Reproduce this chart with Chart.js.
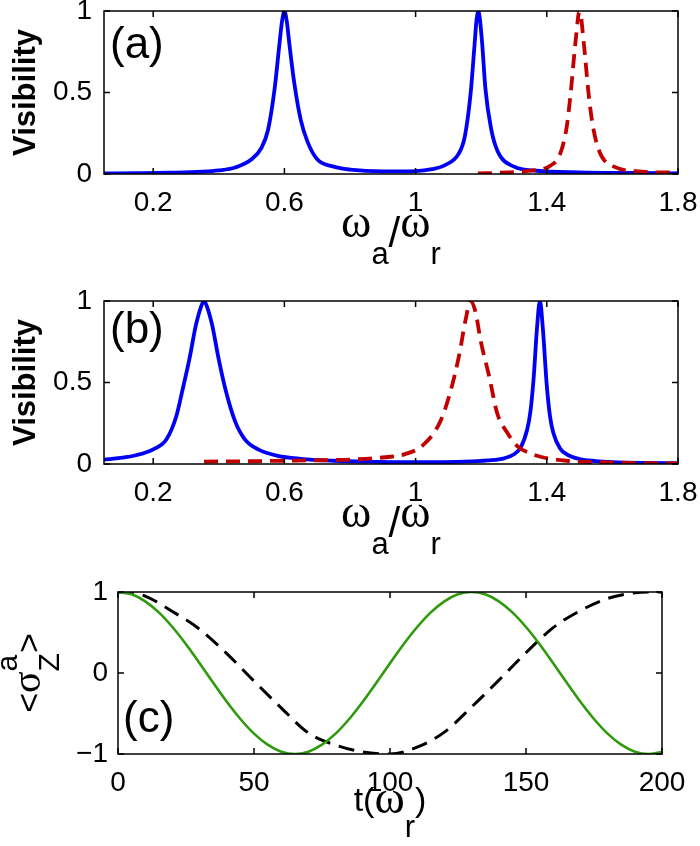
<!DOCTYPE html>
<html>
<head>
<meta charset="utf-8">
<script src="https://cdn.jsdelivr.net/npm/chart.js@4.4.1/dist/chart.umd.min.js"></script>
<style>
  body { margin: 0; background: #fff; }
  #wrap { position: relative; width: 700px; height: 846px; }
  canvas { position: absolute; left: 0; }
</style>
</head>
<body>
<div id="wrap">
  <canvas id="panelA" width="700" height="280" style="top:0px"></canvas>
  <canvas id="panelB" width="700" height="280" style="top:290px"></canvas>
  <canvas id="panelC" width="700" height="266" style="top:580px"></canvas>
</div>
<script>
// ---- data ----

// panel (a): visibility vs omega_a / omega_r
const aBlueX = [0.05, 0.15, 0.25, 0.35, 0.40, 0.45, 0.50, 0.53, 0.55, 0.57, 0.585, 0.593, 0.60, 0.607, 0.615, 0.63, 0.65, 0.67, 0.70, 0.75, 0.80, 0.90, 1.00, 1.05, 1.09, 1.13, 1.15, 1.168, 1.18, 1.186, 1.191, 1.196, 1.203, 1.213, 1.23, 1.25, 1.30, 1.37, 1.50, 1.65, 1.80];
const aBlueY = [0.003, 0.005, 0.008, 0.014, 0.022, 0.04, 0.09, 0.16, 0.27, 0.52, 0.8, 0.94, 1.0, 0.94, 0.8, 0.56, 0.33, 0.2, 0.09, 0.045, 0.027, 0.016, 0.018, 0.03, 0.055, 0.12, 0.23, 0.5, 0.8, 0.95, 1.0, 0.95, 0.8, 0.52, 0.28, 0.14, 0.045, 0.02, 0.01, 0.006, 0.004];
const aRedX = [1.19, 1.28, 1.35, 1.41, 1.44, 1.46, 1.473, 1.487, 1.5, 1.513, 1.527, 1.54, 1.56, 1.605, 1.69, 1.80];
const aRedY = [0.003, 0.01, 0.02, 0.05, 0.12, 0.28, 0.5, 0.8, 1.0, 0.8, 0.5, 0.3, 0.14, 0.045, 0.015, 0.008];

// panel (b)
const bBlueX = [0.05, 0.10, 0.15, 0.20, 0.24, 0.27, 0.29, 0.31, 0.33, 0.345, 0.355, 0.365, 0.38, 0.40, 0.42, 0.45, 0.48, 0.52, 0.58, 0.65, 0.75, 0.85, 0.95, 1.05, 1.15, 1.22, 1.27, 1.30, 1.32, 1.34, 1.35, 1.36, 1.37, 1.379, 1.388, 1.40, 1.41, 1.42, 1.44, 1.46, 1.50, 1.55, 1.60, 1.70, 1.80];
const bBlueY = [0.027, 0.037, 0.055, 0.09, 0.15, 0.29, 0.46, 0.64, 0.85, 0.96, 1.0, 0.96, 0.85, 0.64, 0.46, 0.26, 0.15, 0.09, 0.05, 0.032, 0.02, 0.014, 0.011, 0.011, 0.014, 0.022, 0.035, 0.06, 0.1, 0.21, 0.32, 0.53, 0.83, 1.0, 0.83, 0.48, 0.29, 0.19, 0.097, 0.06, 0.03, 0.018, 0.012, 0.007, 0.005];
const bRedX = [0.355, 0.5, 0.6, 0.7, 0.8, 0.89, 0.97, 1.025, 1.075, 1.107, 1.132, 1.153, 1.167, 1.183, 1.198, 1.224, 1.249, 1.28, 1.31, 1.35, 1.39, 1.46, 1.58, 1.74, 1.8];
const bRedY = [0.015, 0.017, 0.02, 0.023, 0.027, 0.038, 0.062, 0.12, 0.26, 0.45, 0.66, 0.89, 1.0, 0.93, 0.76, 0.54, 0.31, 0.19, 0.11, 0.065, 0.04, 0.02, 0.01, 0.004, 0.003];

const wTicks = [0.2, 0.6, 1, 1.4, 1.8];
const wTickLabels = ['0.2', '0.6', '1', '1.4', '1.8'];
const visTicks = [0, 0.5, 1];
const visTickLabels = ['0', '0.5', '1'];

// panel (c): <sigma_z^a> vs time
const cGreenT = [0, 5, 10, 15, 20, 25, 30, 35, 40, 45, 50, 55, 60, 65, 70, 75, 80, 85, 90, 95, 100, 105, 110, 115, 120, 125, 130, 135, 140, 145, 150, 155, 160, 165, 170, 175, 180, 185, 190, 195, 200];
const cGreenY = [1, 0.971, 0.885, 0.749, 0.568, 0.355, 0.121, -0.121, -0.355, -0.568, -0.749, -0.885, -0.971, -1, -0.971, -0.885, -0.749, -0.568, -0.355, -0.121, 0.121, 0.355, 0.568, 0.749, 0.885, 0.971, 1, 0.971, 0.885, 0.749, 0.568, 0.355, 0.121, -0.121, -0.355, -0.568, -0.749, -0.885, -0.971, -1, -0.975];
const cBlackT = [0, 5, 10, 20, 30, 40, 50, 60, 70, 80, 90, 100, 110, 120, 130, 140, 150, 160, 170, 180, 190, 195, 200];
const cBlackY = [1, 0.99, 0.95, 0.76, 0.54, 0.24, -0.1, -0.43, -0.74, -0.89, -0.975, -1, -0.915, -0.73, -0.42, -0.09, 0.25, 0.56, 0.77, 0.92, 0.99, 1, 1];

const tTicks = [0, 50, 100, 150, 200];
const tTickLabels = ['0', '50', '100', '150', '200'];
const sTicks = [-1, 0, 1];
const sTickLabels = ['\u22121', '0', '1'];

// ---- drawing ----
const sans = '"Liberation Sans", Arial, Helvetica, sans-serif';
const serif = '"Liberation Serif", "Times New Roman", serif';

const omegaTitle = [
  { t: '\u03c9', font: `46px ${serif}`, dy: 0 },
  { t: 'a', font: `31px ${sans}`, dy: 27 },
  { t: '/', font: `42px ${sans}`, dy: 10 },
  { t: '\u03c9', font: `46px ${serif}`, dy: 0 },
  { t: 'r', font: `31px ${sans}`, dy: 27 }
];
const timeTitle = [
  { t: 't(', font: `34px ${sans}`, dy: 0 },
  { t: '\u03c9', font: `46px ${serif}`, dy: 2 },
  { t: 'r', font: `31px ${sans}`, dy: 26 },
  { t: ')', font: `34px ${sans}`, dy: 0 }
];
const visTitle = [{ t: 'Visibility', font: `bold 31px ${sans}`, dy: 0 }];
const sigmaTitle = [
  { t: '<', font: `34px ${sans}`, dy: 0 },
  { t: '\u03c3', font: `40px ${serif}`, dy: 0 },
  { stack: [
    { t: 'Z', font: `30px ${sans}`, dy: 19 },
    { t: 'a', font: `30px ${sans}`, dy: -23 }
  ] },
  { t: '>', font: `34px ${sans}`, dy: 0 }
];

function segWidth(ctx, s) {
  if (s.stack) return Math.max(...s.stack.map(p => segWidth(ctx, p)));
  ctx.font = s.font;
  return ctx.measureText(s.t).width;
}

// draws a row of text pieces centred on cx, with sub/superscript offsets
function drawRich(ctx, segs, cx, baseY) {
  const total = segs.reduce((w, s) => w + segWidth(ctx, s), 0);
  let x = cx - total / 2;
  ctx.textAlign = 'left';
  ctx.textBaseline = 'alphabetic';
  segs.forEach(s => {
    const parts = s.stack || [s];
    parts.forEach(p => {
      ctx.font = p.font;
      ctx.fillText(p.t, x, baseY + p.dy);
    });
    x += segWidth(ctx, s);
  });
}

const matlab = {
  id: 'matlab',
  afterDraw(chart, args, opts) {
    const { ctx, chartArea: a, scales: { x, y } } = chart;
    ctx.save();
    ctx.strokeStyle = '#000';
    ctx.lineWidth = 1.5;
    ctx.strokeRect(a.left, a.top, a.right - a.left, a.bottom - a.top);
    // inward tick marks on all four sides
    ctx.beginPath();
    x.ticks.forEach(t => {
      const px = x.getPixelForValue(t.value);
      ctx.moveTo(px, a.bottom); ctx.lineTo(px, a.bottom - 6);
      ctx.moveTo(px, a.top); ctx.lineTo(px, a.top + 6);
    });
    y.ticks.forEach(t => {
      const py = y.getPixelForValue(t.value);
      ctx.moveTo(a.left, py); ctx.lineTo(a.left + 6, py);
      ctx.moveTo(a.right, py); ctx.lineTo(a.right - 6, py);
    });
    ctx.stroke();

    ctx.fillStyle = '#000';
    drawRich(ctx, opts.xTitle, (a.left + a.right) / 2, opts.xTitleY);
    ctx.save();
    ctx.translate(opts.yTitleX, (a.top + a.bottom) / 2);
    ctx.rotate(-Math.PI / 2);
    drawRich(ctx, opts.yTitle, 0, 0);
    ctx.restore();

    ctx.font = `44px ${sans}`;
    ctx.textAlign = 'left';
    ctx.textBaseline = 'alphabetic';
    ctx.fillText(opts.label, opts.labelX, opts.labelY);
    ctx.restore();
  }
};

const pts = (xs, ys) => xs.map((v, i) => ({ x: v, y: ys[i] }));

function makePanel(id, cfg) {
  const tickFont = { family: sans, size: 28 };
  return new Chart(document.getElementById(id), {
    type: 'line',
    data: { datasets: cfg.datasets },
    options: {
      responsive: false,
      animation: false,
      devicePixelRatio: 1,
      layout: {
        autoPadding: false,
        padding: { left: 0, top: cfg.padTop, right: cfg.padRight, bottom: 0 }
      },
      elements: {
        point: { radius: 0 },
        line: { cubicInterpolationMode: 'monotone', fill: false, borderCapStyle: 'butt' }
      },
      plugins: {
        legend: { display: false },
        tooltip: { enabled: false },
        matlab: cfg.matlab
      },
      scales: {
        x: {
          type: 'linear',
          min: cfg.xMin,
          max: cfg.xMax,
          grid: { display: false, drawTicks: false },
          border: { display: false },
          afterBuildTicks: s => { s.ticks = cfg.xTicks.map(v => ({ value: v })); },
          afterFit: s => { s.height = cfg.xHeight; s.paddingLeft = 0; s.paddingRight = 0; },
          ticks: {
            padding: 12, autoSkip: false, maxRotation: 0, minRotation: 0,
            color: '#000', font: tickFont,
            callback: (v, i) => cfg.xTickLabels[i]
          }
        },
        y: {
          type: 'linear',
          min: cfg.yMin,
          max: cfg.yMax,
          grid: { display: false, drawTicks: false },
          border: { display: false },
          afterBuildTicks: s => { s.ticks = cfg.yTicks.map(v => ({ value: v })); },
          afterFit: s => { s.width = cfg.yWidth; s.paddingTop = 0; s.paddingBottom = 0; },
          ticks: {
            padding: cfg.yPad, autoSkip: false,
            color: '#000', font: tickFont,
            callback: (v, i) => cfg.yTickLabels[i]
          }
        }
      }
    },
    plugins: [matlab]
  });
}

const blue = '#0000f5';
const red = '#c20000';

makePanel('panelA', {
  padTop: 11, padRight: 22, xHeight: 106, yWidth: 104, yPad: 12,
  xMin: 0.05, xMax: 1.8, yMin: 0, yMax: 1,
  xTicks: wTicks, xTickLabels: wTickLabels, yTicks: visTicks, yTickLabels: visTickLabels,
  datasets: [
    { data: pts(aRedX, aRedY), borderColor: red, borderWidth: 3.8, borderDash: [14, 8], order: 0 },
    { data: pts(aBlueX, aBlueY), borderColor: blue, borderWidth: 3.8, order: 1 }
  ],
  matlab: { xTitle: omegaTitle, xTitleY: 237, yTitle: visTitle, yTitleX: 35, label: '(a)', labelX: 110, labelY: 58 }
});

makePanel('panelB', {
  padTop: 11, padRight: 22, xHeight: 106, yWidth: 104, yPad: 12,
  xMin: 0.05, xMax: 1.8, yMin: 0, yMax: 1,
  xTicks: wTicks, xTickLabels: wTickLabels, yTicks: visTicks, yTickLabels: visTickLabels,
  datasets: [
    { data: pts(bRedX, bRedY), borderColor: red, borderWidth: 3.8, borderDash: [14, 8], order: 0 },
    { data: pts(bBlueX, bBlueY), borderColor: blue, borderWidth: 3.8, order: 1 }
  ],
  matlab: { xTitle: omegaTitle, xTitleY: 237, yTitle: visTitle, yTitleX: 35, label: '(b)', labelX: 110, labelY: 53 }
});

makePanel('panelC', {
  padTop: 12, padRight: 38, xHeight: 92, yWidth: 118, yPad: 10,
  xMin: 0, xMax: 200, yMin: -1, yMax: 1,
  xTicks: tTicks, xTickLabels: tTickLabels, yTicks: sTicks, yTickLabels: sTickLabels,
  datasets: [
    { data: pts(cGreenT, cGreenY), borderColor: '#2f9a0c', borderWidth: 2.6, order: 0 },
    { data: pts(cBlackT, cBlackY), borderColor: '#000', borderWidth: 3, borderDash: [16, 9], order: 1 }
  ],
  matlab: { xTitle: timeTitle, xTitleY: 231, yTitle: sigmaTitle, yTitleX: 40, label: '(c)', labelX: 123, labelY: 152 }
});
</script>
</body>
</html>
